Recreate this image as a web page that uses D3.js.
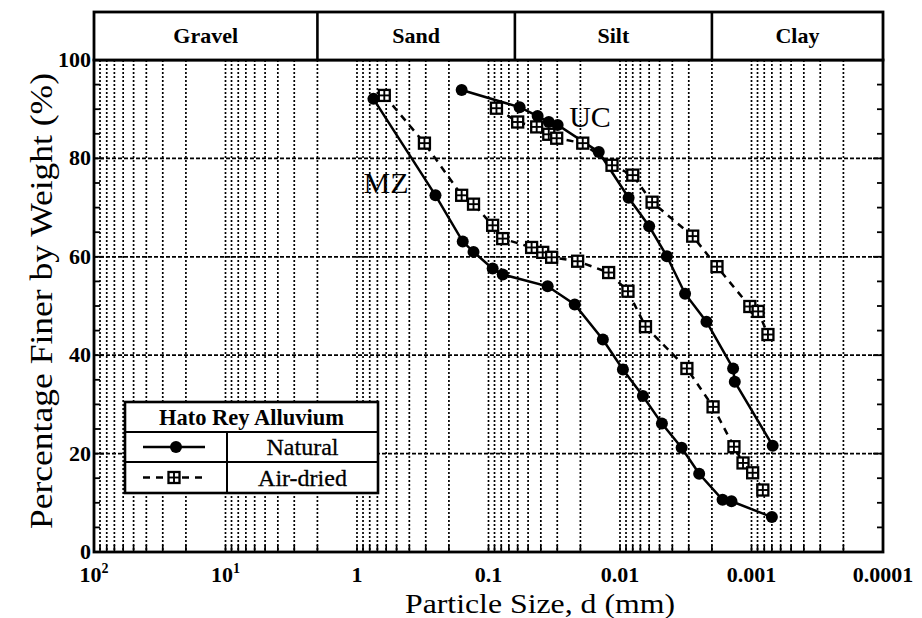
<!DOCTYPE html>
<html>
<head>
<meta charset="utf-8">
<script src="https://cdn.jsdelivr.net/npm/d3@7/dist/d3.min.js"></script>
<style>
  body { margin: 0; background: #fff; }
  svg { display: block; }
</style>
</head>
<body>
<svg id="chart" width="922" height="618" font-family="'Liberation Serif', 'Times New Roman', Times, 'DejaVu Serif', serif"></svg>
<script>
// Soil classes along the particle-size axis (boundaries in mm)
const classNames = ["Gravel", "Sand", "Silt", "Clay"];
const classBounds = [100, 2, 0.063, 0.002, 0.0001];

// Axis ticks
const sizeTicks = [100, 10, 1, 0.1, 0.01, 0.001, 0.0001];
const sizeTickBase = ["10", "10", "1", "0.1", "0.01", "0.001", "0.0001"];
const sizeTickSup = ["2", "1", "", "", "", "", ""];
const percentTicks = [0, 20, 40, 60, 80, 100];

// Hato Rey Alluvium, MZ sample
const mzNaturalSize = [0.75, 0.253, 0.157, 0.130, 0.093, 0.078, 0.0355, 0.0221, 0.0135, 0.0095, 0.0067, 0.0048, 0.0034, 0.0025, 0.00166, 0.00142, 0.0007];
const mzNaturalPct  = [92.1, 72.5, 63.1, 61.0, 57.6, 56.4, 54.0, 50.3, 43.2, 37.1, 31.7, 26.1, 21.2, 15.9, 10.6, 10.3, 7.1];
const mzAirSize = [0.62, 0.307, 0.160, 0.130, 0.093, 0.078, 0.047, 0.0387, 0.0331, 0.0210, 0.0122, 0.0087, 0.0064, 0.0031, 0.00196, 0.00136, 0.00116, 0.00098, 0.00082];
const mzAirPct  = [92.8, 83.1, 72.5, 70.7, 66.4, 63.7, 61.9, 60.9, 59.9, 59.1, 56.8, 53.0, 45.8, 37.3, 29.5, 21.4, 18.1, 16.1, 12.6];

// Hato Rey Alluvium, UC sample
const ucNaturalSize = [0.160, 0.058, 0.0423, 0.0348, 0.0298, 0.0145, 0.0086, 0.0060, 0.0044, 0.0032, 0.0022, 0.00138, 0.00134, 0.00069];
const ucNaturalPct  = [93.9, 90.4, 88.6, 87.4, 86.8, 81.3, 72.0, 66.2, 60.1, 52.5, 46.8, 37.3, 34.6, 21.6];
const ucAirSize = [0.087, 0.060, 0.043, 0.0348, 0.0303, 0.0192, 0.0115, 0.0080, 0.0057, 0.0028, 0.00183, 0.00103, 0.00089, 0.00075];
const ucAirPct  = [90.2, 87.4, 86.4, 84.9, 84.1, 83.1, 78.6, 76.6, 71.1, 64.2, 58.0, 49.9, 48.9, 44.2];

const svg = d3.select("#chart");
const plotL = 94, plotR = 883, plotT = 60, plotB = 552, bandT = 12;

const x = d3.scaleLog().domain([100, 0.0001]).range([plotL, plotR]);
const y = d3.scaleLinear().domain([0, 100]).range([plotB, plotT]);

// ---- grid ----
const grid = svg.append("g");
const minorSizes = x.ticks(); // 1..9 multiples of each decade
grid.append("g").selectAll("line").data(minorSizes).join("line")
  .attr("x1", d => x(d)).attr("x2", d => x(d))
  .attr("y1", plotT).attr("y2", plotB)
  .attr("stroke", "#000").attr("stroke-width", 1.7)
  .attr("stroke-dasharray", "2,2");
grid.append("g").selectAll("line").data(minorSizes).join("line")
  .attr("x1", d => x(d)).attr("x2", d => x(d))
  .attr("y1", plotB - 7).attr("y2", plotB)
  .attr("stroke", "#000").attr("stroke-width", 1.7);

grid.append("g").selectAll("line").data(percentTicks.filter(v => v > 0 && v < 100)).join("line")
  .attr("x1", plotL).attr("x2", plotR)
  .attr("y1", d => y(d)).attr("y2", d => y(d))
  .attr("stroke", "#000").attr("stroke-width", 1.8)
  .attr("stroke-dasharray", "4,2");

// percent ticks every 5 % on both sides
const pctMinor = d3.range(0, 101, 5);
[plotL, plotR].forEach((edge, i) => {
  const dir = i === 0 ? 1 : -1;
  grid.append("g").selectAll("line").data(pctMinor).join("line")
    .attr("x1", edge).attr("x2", d => edge + dir * (d % 20 === 0 ? 10 : 6))
    .attr("y1", d => y(d)).attr("y2", d => y(d))
    .attr("stroke", "#000").attr("stroke-width", 1.8);
});

// ---- series ----
const line = d3.line().x(d => x(d[0])).y(d => y(d[1]));
const zip = (a, b) => a.map((v, i) => [v, b[i]]);

const series = [
  { pts: zip(mzNaturalSize, mzNaturalPct), dashed: false },
  { pts: zip(ucNaturalSize, ucNaturalPct), dashed: false },
  { pts: zip(mzAirSize, mzAirPct), dashed: true },
  { pts: zip(ucAirSize, ucAirPct), dashed: true }
];

const plot = svg.append("g");
series.forEach(s => {
  plot.append("path").datum(s.pts)
    .attr("d", line).attr("fill", "none")
    .attr("stroke", "#000").attr("stroke-width", 2.5)
    .attr("stroke-dasharray", s.dashed ? "7,6" : null);
});

function circleMark(g, cx, cy) {
  g.append("circle").attr("cx", cx).attr("cy", cy).attr("r", 6).attr("fill", "#000");
}
function squareMark(g, cx, cy) {
  const h = 5.5;
  g.append("rect").attr("x", cx - h).attr("y", cy - h).attr("width", 2 * h).attr("height", 2 * h)
    .attr("fill", "#fff").attr("stroke", "#000").attr("stroke-width", 2.3);
  g.append("line").attr("x1", cx - h).attr("x2", cx + h).attr("y1", cy).attr("y2", cy)
    .attr("stroke", "#000").attr("stroke-width", 1.9);
  g.append("line").attr("x1", cx).attr("x2", cx).attr("y1", cy - h).attr("y2", cy + h)
    .attr("stroke", "#000").attr("stroke-width", 1.9);
}

series.forEach(s => {
  s.pts.forEach(p => {
    if (s.dashed) squareMark(plot, x(p[0]), y(p[1]));
    else circleMark(plot, x(p[0]), y(p[1]));
  });
});

// sample labels
plot.append("text").attr("x", 386).attr("y", 193).attr("text-anchor", "middle")
  .attr("font-size", 30).text("MZ");
plot.append("text").attr("x", 590).attr("y", 127).attr("text-anchor", "middle")
  .attr("font-size", 30).text("UC");

// ---- frame and class band ----
svg.append("rect").attr("x", plotL).attr("y", plotT).attr("width", plotR - plotL).attr("height", plotB - plotT)
  .attr("fill", "none").attr("stroke", "#000").attr("stroke-width", 2.8);
svg.append("rect").attr("x", plotL).attr("y", bandT).attr("width", plotR - plotL).attr("height", plotT - bandT)
  .attr("fill", "#fff").attr("stroke", "#000").attr("stroke-width", 2.8);

const band = svg.append("g");
classNames.forEach((name, i) => {
  const x0 = x(classBounds[i]), x1 = x(classBounds[i + 1]);
  if (i > 0) band.append("line").attr("x1", x0).attr("x2", x0).attr("y1", bandT).attr("y2", plotT)
    .attr("stroke", "#000").attr("stroke-width", 2.6);
  band.append("text").attr("x", (x0 + x1) / 2).attr("y", (bandT + plotT) / 2 + 7)
    .attr("text-anchor", "middle").attr("font-size", 22).attr("font-weight", "bold").text(name);
});

// ---- axis labels ----
const ax = svg.append("g");
percentTicks.forEach(v => {
  ax.append("text").attr("x", 91).attr("y", y(v) + 7).attr("text-anchor", "end")
    .attr("font-size", 22).attr("font-weight", "bold").text(v);
});
sizeTicks.forEach((v, i) => {
  const t = ax.append("text").attr("x", x(v)).attr("y", 582).attr("text-anchor", "middle")
    .attr("font-size", 22).attr("font-weight", "bold");
  t.append("tspan").text(sizeTickBase[i]);
  if (sizeTickSup[i]) t.append("tspan").attr("dy", -9).attr("font-size", 14).text(sizeTickSup[i]);
});

ax.append("text").attr("x", 540).attr("y", 613).attr("text-anchor", "middle")
  .attr("font-size", 28).attr("textLength", 270).attr("lengthAdjust", "spacingAndGlyphs")
  .text("Particle Size, d (mm)");
ax.append("text").attr("transform", "translate(52,301) rotate(-90)").attr("text-anchor", "middle")
  .attr("font-size", 31).attr("textLength", 456).attr("lengthAdjust", "spacingAndGlyphs")
  .text("Percentage Finer by Weight (%)");

// ---- legend ----
const lg = svg.append("g");
const lx0 = 125, lx1 = 378, ly0 = 402, ly1 = 432, ly2 = 462, ly3 = 493, lcol = 227;
lg.append("rect").attr("x", lx0).attr("y", ly0).attr("width", lx1 - lx0).attr("height", ly3 - ly0)
  .attr("fill", "#fff").attr("stroke", "#000").attr("stroke-width", 2.6);
[ly1, ly2].forEach(yy => lg.append("line").attr("x1", lx0).attr("x2", lx1).attr("y1", yy).attr("y2", yy)
  .attr("stroke", "#000").attr("stroke-width", 2));
lg.append("line").attr("x1", lcol).attr("x2", lcol).attr("y1", ly1).attr("y2", ly3)
  .attr("stroke", "#000").attr("stroke-width", 2);
lg.append("text").attr("x", (lx0 + lx1) / 2).attr("y", ly0 + 23).attr("text-anchor", "middle")
  .attr("font-size", 22.5).attr("font-weight", "bold").text("Hato Rey Alluvium");
lg.append("text").attr("x", (lcol + lx1) / 2).attr("y", ly1 + 23).attr("text-anchor", "middle")
  .attr("font-size", 24).attr("stroke", "#000").attr("stroke-width", 0.3).text("Natural");
lg.append("text").attr("x", (lcol + lx1) / 2).attr("y", ly2 + 24).attr("text-anchor", "middle")
  .attr("font-size", 24).attr("stroke", "#000").attr("stroke-width", 0.3).text("Air-dried");
lg.append("line").attr("x1", 143).attr("x2", 205).attr("y1", (ly1 + ly2) / 2).attr("y2", (ly1 + ly2) / 2)
  .attr("stroke", "#000").attr("stroke-width", 2.5);
circleMark(lg, 176, (ly1 + ly2) / 2);
lg.append("line").attr("x1", 143).attr("x2", 205).attr("y1", (ly2 + ly3) / 2).attr("y2", (ly2 + ly3) / 2)
  .attr("stroke", "#000").attr("stroke-width", 2.5).attr("stroke-dasharray", "7,6");
squareMark(lg, 174, (ly2 + ly3) / 2);
</script>
</body>
</html>
